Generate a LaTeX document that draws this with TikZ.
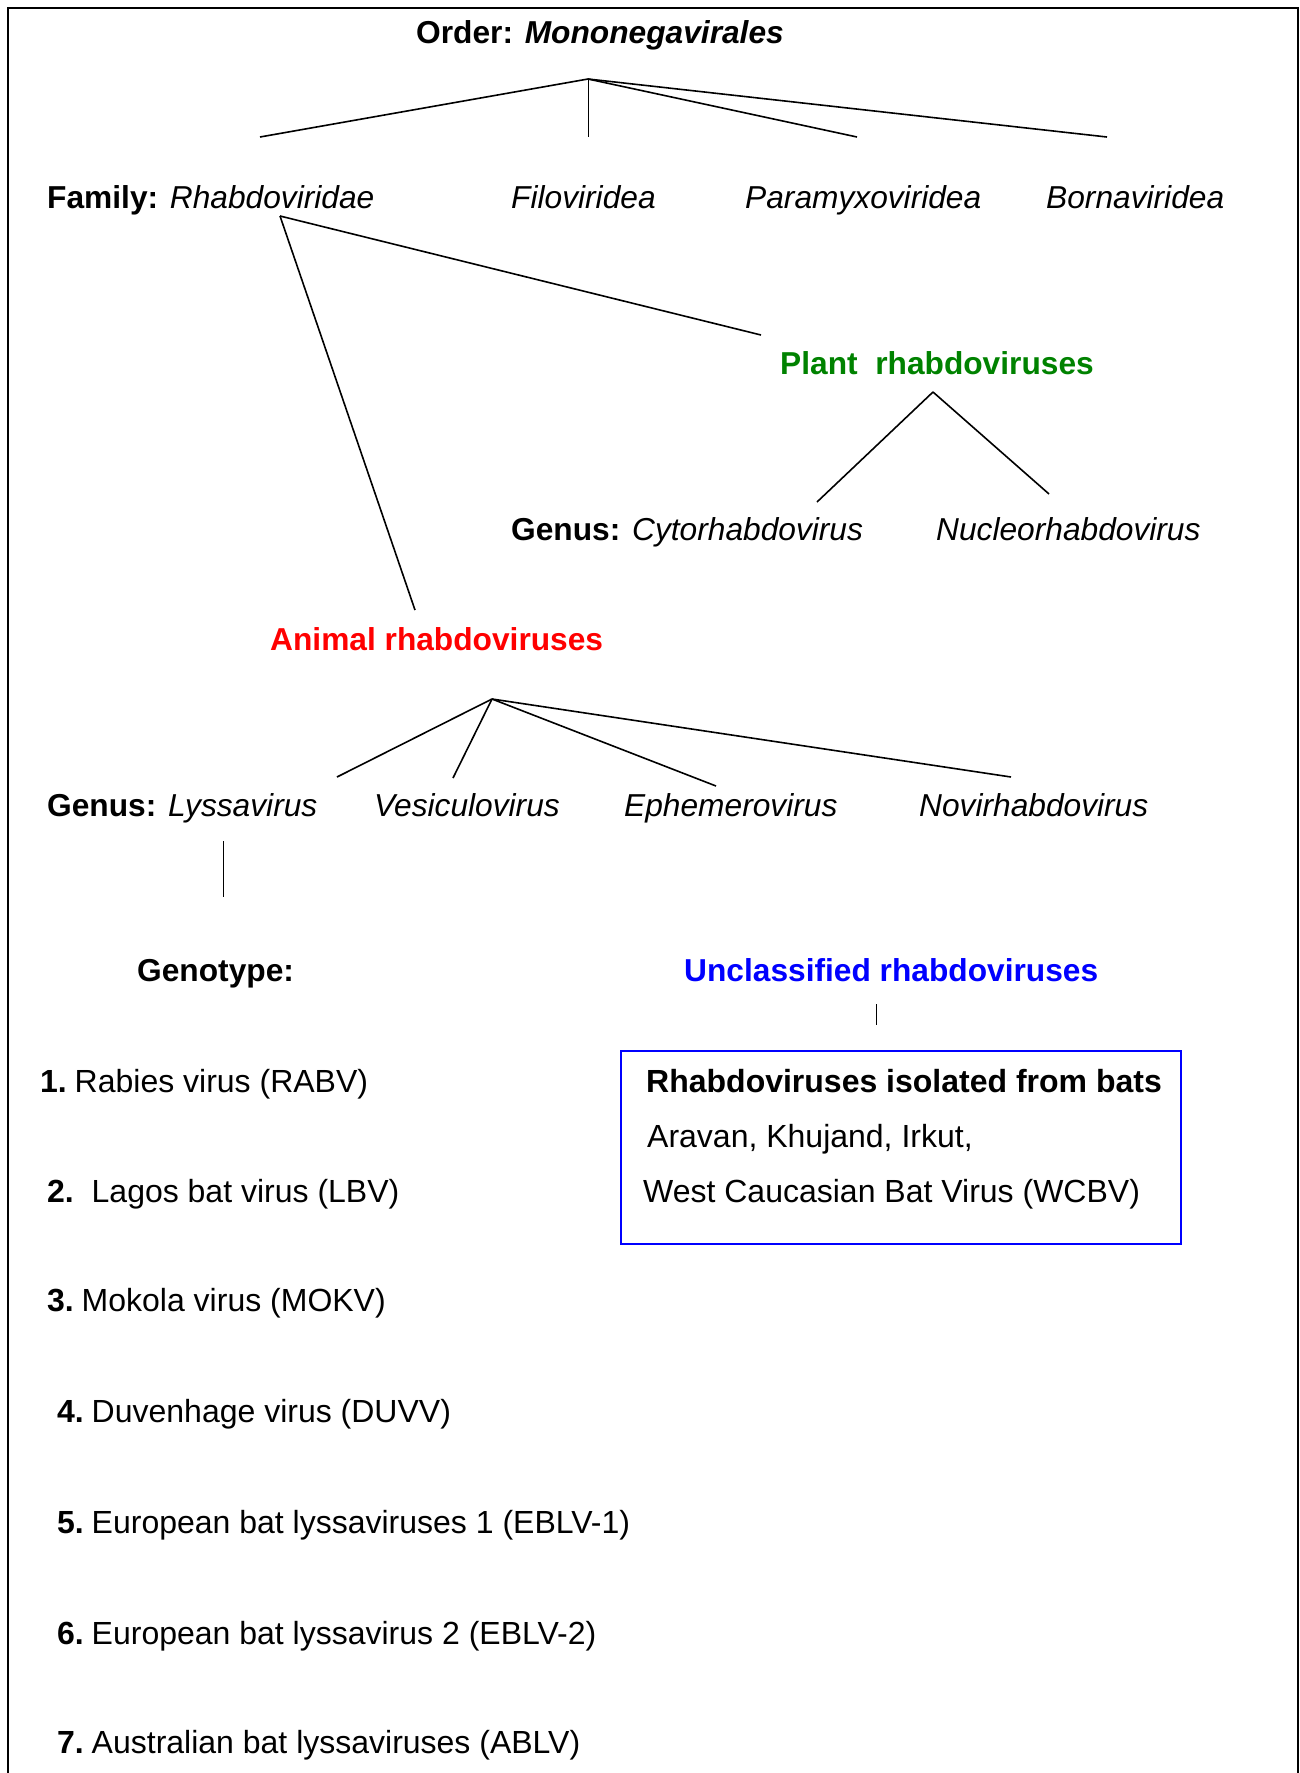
\documentclass[tikz,border=0pt]{standalone}
\usepackage{fontspec}
\setmainfont{Liberation Sans}
\definecolor{plantgreen}{RGB}{0,130,0}
\definecolor{animalred}{RGB}{255,0,0}
\definecolor{unclblue}{RGB}{0,0,255}
\begin{document}
\begin{tikzpicture}[x=1pt,y=-1pt,
  lbl/.style={inner sep=0pt, anchor=base west, font=\fontsize{31.7}{38}\selectfont},
  item/.style={lbl, font=\fontsize{32}{38}\selectfont},
  tree/.style={line width=1.6pt},
  thin/.style={line width=1pt}]
\useasboundingbox (0,0) rectangle (1299,1773);
% frame
\draw[line width=2pt] (8,1773) -- (8,8) -- (1298,8) -- (1298,1773);

% texts
\node[lbl] (order) at (416,43) {\textbf{Order: \textit{Mononegavirales}}};
\node[lbl] (fam) at (47,208) {\textbf{Family:} \textit{Rhabdoviridae}};
\node[lbl] (filo) at (511,208) {\textit{Filoviridea}};
\node[lbl] (para) at (745,208) {\textit{Paramyxoviridea}};
\node[lbl] (borna) at (1046,208) {\textit{Bornaviridea}};
\node[lbl, text=plantgreen] (plant) at (780,374) {\textbf{Plant\ \ rhabdoviruses}};
\node[lbl] (cyto) at (511,540) {\textbf{Genus:} \textit{Cytorhabdovirus}};
\node[lbl] (nucl) at (936,540) {\textit{Nucleorhabdovirus}};
\node[lbl, text=animalred] (animal) at (270,650) {\textbf{Animal rhabdoviruses}};
\node[lbl] (lyssa) at (47,816) {\textbf{Genus:} \textit{Lyssavirus}};
\node[lbl] (vesi) at (374,816) {\textit{Vesiculovirus}};
\node[lbl] (ephe) at (624,816) {\textit{Ephemerovirus}};
\node[lbl] (novi) at (919,816) {\textit{Novirhabdovirus}};
\node[lbl] (geno) at (137,981) {\textbf{Genotype:}};
\node[lbl, text=unclblue] (uncl) at (684,981) {\textbf{Unclassified rhabdoviruses}};

% box
\node[draw=unclblue, line width=1.5pt, minimum width=560, minimum height=193, anchor=north west, inner sep=0pt] (box) at (620,1050) {};
\node[item] (b1) at (646,1092) {\textbf{Rhabdoviruses isolated from bats}};
\node[item] (b2) at (647,1147) {Aravan, Khujand, Irkut,};
\node[item] (b3) at (643,1202) {West Caucasian Bat Virus (WCBV)};

% genotype list
\node[item] (g1) at (40,1092) {\textbf{1.}\kern-4pt{} Rabies virus (RABV)};
\node[item] (g2) at (47,1202) {\textbf{2.}\ \ Lagos bat virus (LBV)};
\node[item] (g3) at (47,1311) {\textbf{3.}\kern-4pt{} Mokola virus (MOKV)};
\node[item] (g4) at (57,1422) {\textbf{4.}\kern-4pt{} Duvenhage virus (DUVV)};
\node[item] (g5) at (57,1533) {\textbf{5.}\kern-4pt{} European bat lyssaviruses 1 (EBLV-1)};
\node[item] (g6) at (57,1644) {\textbf{6.}\kern-4pt{} European bat lyssavirus 2 (EBLV-2)};
\node[item] (g7) at (57,1753) {\textbf{7.}\kern-4pt{} Australian bat lyssaviruses (ABLV)};

% connector coordinates
\coordinate (oA) at (588,79);
\coordinate (oR) at (260,137);
\coordinate (oF) at (588,137);
\coordinate (oP) at (857,137);
\coordinate (oB) at (1107,137);
\coordinate (rA) at (280,216);
\coordinate (rP) at (761,335);
\coordinate (rN) at (415,610);
\coordinate (pA) at (933,392);
\coordinate (pC) at (817,502);
\coordinate (pN) at (1049,494);
\coordinate (aA) at (492,699);
\coordinate (aL) at (337,777);
\coordinate (aV) at (453,778);
\coordinate (aE) at (716,786);
\coordinate (aN) at (1011,777);
\coordinate (lT) at (223,841);
\coordinate (lB) at (223,897);
\coordinate (uT) at (876,1004);
\coordinate (uB) at (876,1025);

% connectors
\draw[tree] (oA) -- (oR);
\draw[thin] (oA) -- (oF);
\draw[tree] (oA) -- (oP);
\draw[tree] (oA) -- (oB);
\draw[tree] (rA) -- (rP);
\draw[tree] (rA) -- (rN);
\draw[tree] (pA) -- (pC);
\draw[tree] (pA) -- (pN);
\draw[tree] (aA) -- (aL);
\draw[tree] (aA) -- (aV);
\draw[tree] (aA) -- (aE);
\draw[tree] (aA) -- (aN);
\draw[thin] (lT) -- (lB);
\draw[thin] (uT) -- (uB);
\end{tikzpicture}
\end{document}
